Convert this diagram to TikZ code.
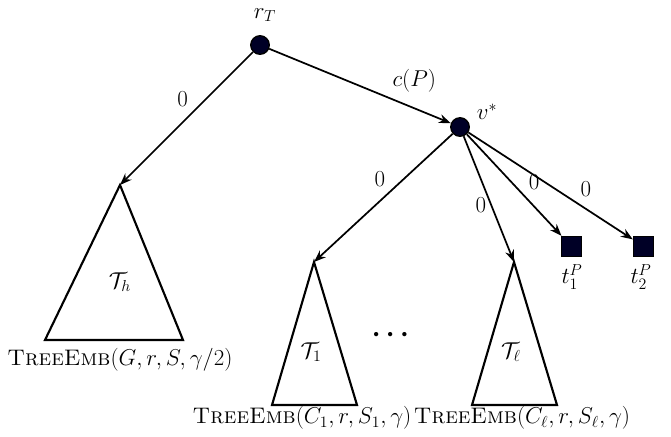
\documentclass[tikz,border=0pt]{standalone}
\usepackage{amsmath}
\usetikzlibrary{arrows.meta}
\tikzset{
	vert/.style={circle,draw=black,fill=black!85!blue,inner sep=0pt,minimum size=14pt,line width=1pt},
	term/.style={rectangle,draw=black,fill=black!85!blue,inner sep=0pt,minimum size=15pt},
	edge/.style={-{Stealth[length=9pt]},line width=1.3pt},
	tri/.style={line width=1.6pt},
	lab/.style={font=\fontsize{17}{20}\selectfont}
}
\begin{document}
\begin{tikzpicture}[x=0.0265cm,y=-0.0265cm]
	\useasboundingbox (0,0) rectangle (671,436);
	\node [vert] (rT) at (260,45) {};
	\node [vert] (vs) at (460,127) {};
	\node [term] (t1) at (571,246) {};
	\node [term] (t2) at (643,246) {};
	\node [lab] at (265,15) {$r_T$};
	\node [lab] at (487,112) {$v^*$};
	\node [lab] at (572,277) {$t_1^P$};
	\node [lab] at (641,277) {$t_2^P$};
	% subtrees
	\coordinate (ah) at (120,185);
	\coordinate (a1) at (314,262);
	\coordinate (al) at (514,262);
	\draw [tri] (ah) -- (183,340) -- (45,340) -- cycle;
	\draw [tri] (a1) -- (357,405) -- (272,405) -- cycle;
	\draw [tri] (al) -- (557,405) -- (472,405) -- cycle;
	\node [lab] at (120,282) {$\mathcal{T}_h$};
	\node [lab] at (311,352) {$\mathcal{T}_1$};
	\node [lab] at (511,352) {$\mathcal{T}_\ell$};
	\node [font=\huge] at (393,335) {$\boldsymbol{\cdots}$};
	\node [lab] at (120,360) {\textsc{TreeEmb}$(G,r,S,\gamma/2)$};
	\node [lab] at (302,418) {\textsc{TreeEmb}$(C_1,r,S_1,\gamma)$};
	\node [lab] at (522,418) {\textsc{TreeEmb}$(C_\ell,r,S_\ell,\gamma)$};
	% edges
	\draw [edge] (rT) -- (ah) node [lab,pos=0.45,above left] {$0$};
	\draw [edge] (rT) -- (vs) node [lab,pos=0.65,above right] {$c(P)$};
	\draw [edge] (vs) -- (a1) node [lab,pos=0.45,above left] {$0$};
	\draw [edge] (vs) -- (al) node [lab,pos=0.55,left] {$0$};
	\draw [edge] (vs) -- (t1) node [lab,pos=0.6,above right] {$0$};
	\draw [edge] (vs) -- (t2) node [lab,pos=0.65,above right] {$0$};
\end{tikzpicture}
\end{document}
